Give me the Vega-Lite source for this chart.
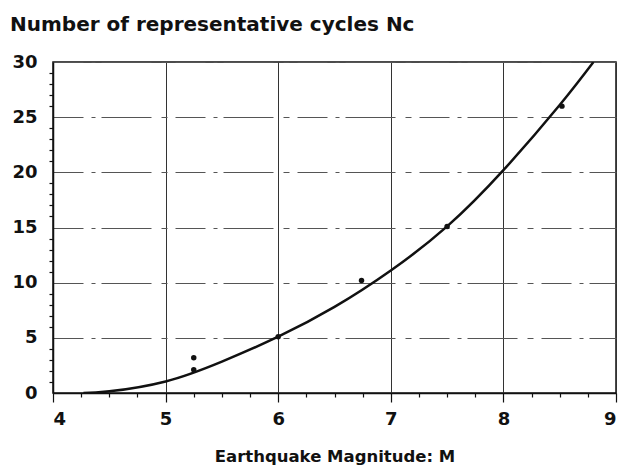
{
  "$schema": "https://vega.github.io/schema/vega-lite/v6.json",
  "autosize": "none",
  "width": 563,
  "height": 331,
  "padding": {"left": 53, "top": 62, "right": 11, "bottom": 77},
  "background": "white",
  "title": {
    "text": "Number of representative cycles Nc",
    "anchor": "start",
    "frame": "group",
    "dx": -43,
    "offset": 18,
    "font": "DejaVu Sans",
    "fontSize": 20,
    "fontWeight": "bold",
    "color": "#111"
  },
  "config": {
    "view": {"stroke": "#111", "strokeWidth": 1.5},
    "axis": {
      "labelFont": "DejaVu Sans",
      "labelFontWeight": "bold",
      "labelFontSize": 18,
      "labelColor": "#111",
      "titleFont": "DejaVu Sans",
      "titleFontWeight": "bold",
      "titleFontSize": 16.5,
      "titleColor": "#111",
      "domainColor": "#111",
      "domainWidth": 1.5,
      "tickColor": "#111",
      "tickWidth": 1.2
    }
  },
  "resolve": {"axis": {"x": "independent", "y": "independent"}},
  "datasets": {
    "curve": [
      {"m": 4.27, "n": 0},
      {"m": 4.5, "n": 0.15},
      {"m": 5.0, "n": 1.05},
      {"m": 5.5, "n": 2.85},
      {"m": 6.0, "n": 5.1},
      {"m": 6.5, "n": 7.8},
      {"m": 7.0, "n": 11.1},
      {"m": 7.5, "n": 15.1},
      {"m": 8.0, "n": 20.2},
      {"m": 8.5, "n": 26.1},
      {"m": 8.8, "n": 30.0}
    ],
    "pts": [
      {"m": 5.25, "n": 3.2},
      {"m": 5.25, "n": 2.1},
      {"m": 6.0, "n": 5.1},
      {"m": 6.74, "n": 10.2},
      {"m": 7.5, "n": 15.1},
      {"m": 8.52, "n": 26.0}
    ]
  },
  "layer": [
    {
      "data": {"name": "curve"},
      "mark": {"type": "line", "interpolate": "natural", "color": "#111", "strokeWidth": 2.5, "clip": true},
      "encoding": {
        "x": {
          "field": "m", "type": "quantitative",
          "scale": {"domain": [4, 9], "nice": false},
          "axis": {
            "orient": "bottom",
            "title": "Earthquake Magnitude: M",
            "titlePadding": 20,
            "values": [4, 5, 6, 7, 8, 9],
            "format": "d",
            "grid": true, "gridColor": "#333", "gridWidth": 1,
            "tickSize": 9, "labelPadding": 8
          }
        },
        "y": {
          "field": "n", "type": "quantitative",
          "scale": {"domain": [0, 30], "nice": false},
          "axis": {
            "orient": "left",
            "title": null,
            "values": [0, 5, 10, 15, 20, 25, 30],
            "grid": true, "gridColor": "#555", "gridWidth": 1,
            "gridDash": [30, 8, 4, 6, 50, 10, 6, 8],
            "tickSize": 0, "labelPadding": 16
          }
        }
      }
    },
    {
      "data": {"name": "pts"},
      "mark": {"type": "circle", "color": "#111", "opacity": 1, "size": 30},
      "encoding": {
        "x": {
          "field": "m", "type": "quantitative",
          "axis": {
            "orient": "bottom",
            "title": null, "labels": false, "domain": false, "grid": false,
            "values": [4.25, 4.5, 4.75, 5.25, 5.5, 5.75, 6.25, 6.5, 6.75, 7.25, 7.5, 7.75, 8.25, 8.5, 8.75],
            "tickSize": 4
          }
        },
        "y": {
          "field": "n", "type": "quantitative",
          "axis": {
            "orient": "left",
            "title": null, "labels": false, "domain": false, "grid": false,
            "values": [1, 2, 3, 4, 6, 7, 8, 9, 11, 12, 13, 14, 16, 17, 18, 19, 21, 22, 23, 24, 26, 27, 28, 29],
            "tickSize": 4
          }
        }
      }
    }
  ]
}
